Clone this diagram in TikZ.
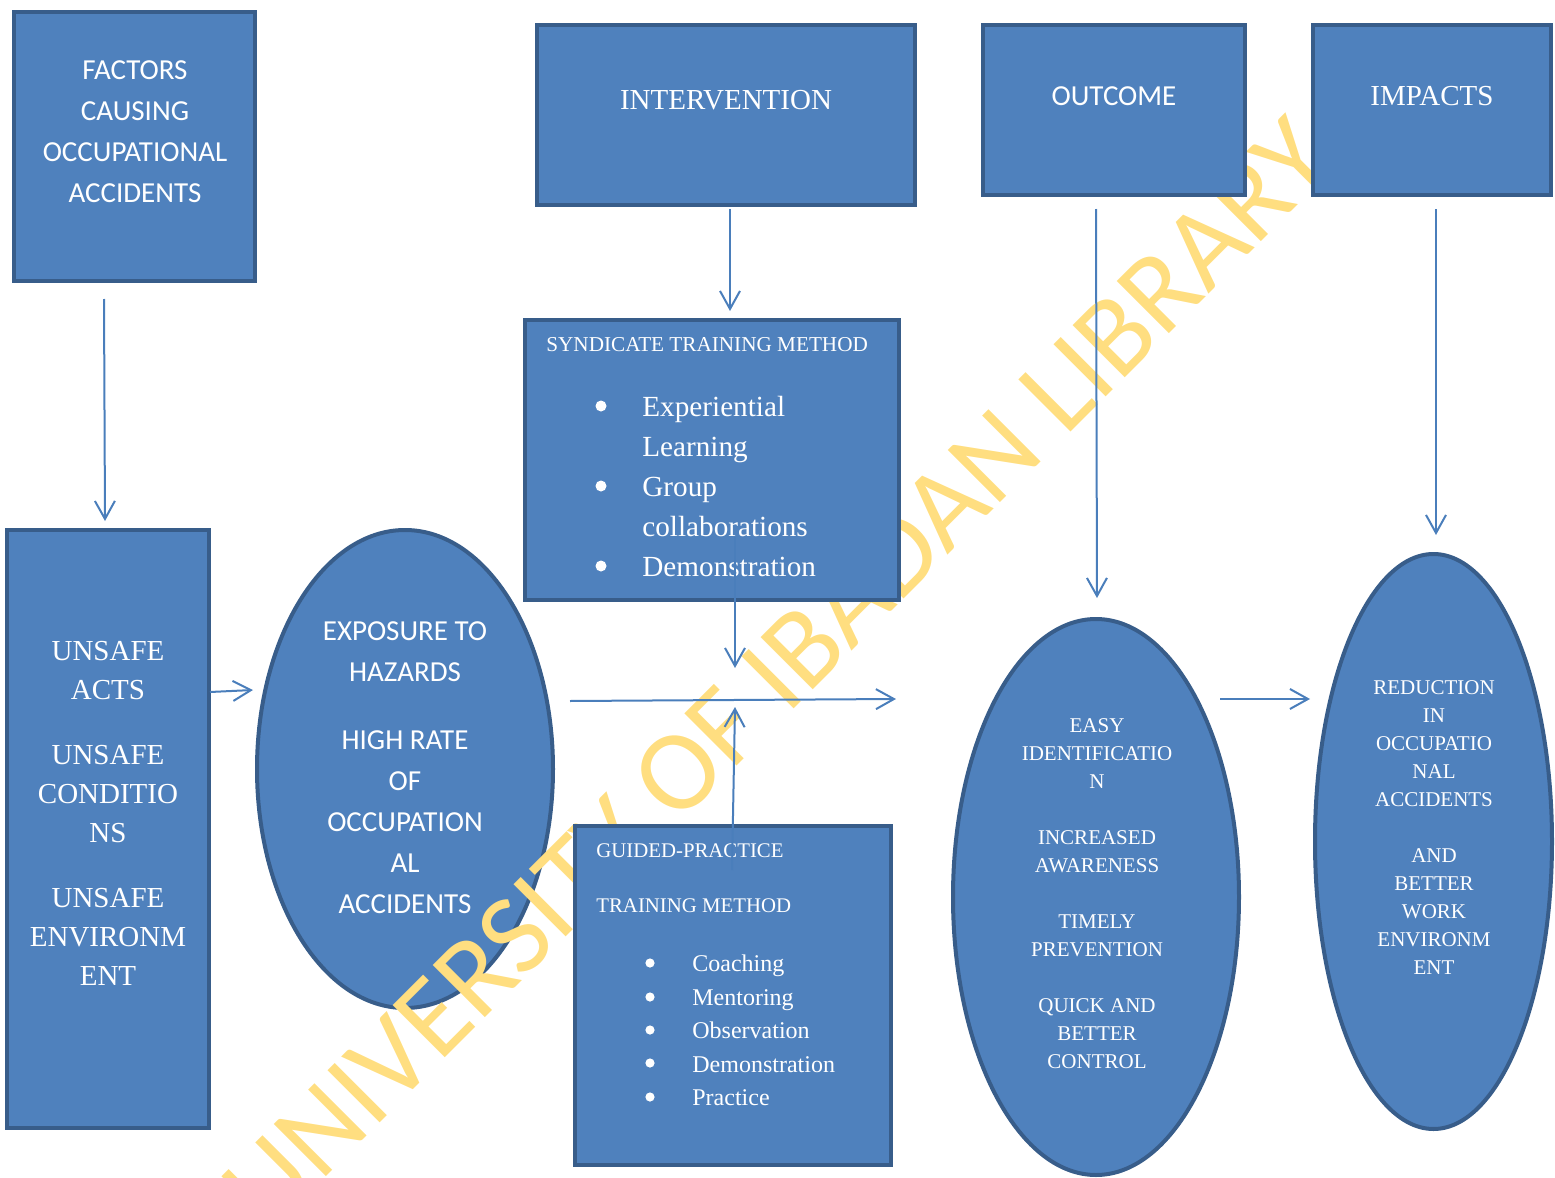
\documentclass[tikz,border=0pt]{standalone}
\usepackage{fontspec}
\setmainfont{Liberation Serif}
\newfontfamily\carl{Carlito}
\usetikzlibrary{shapes.geometric,arrows.meta,calc}
\definecolor{boxfill}{RGB}{79,129,189}
\definecolor{boxline}{RGB}{56,93,138}
\definecolor{arrowc}{RGB}{74,126,187}
\definecolor{wmark}{RGB}{255,222,128}
\begin{document}
\begin{tikzpicture}[x=0.5pt,y=-0.5pt,
  blk/.style={draw=boxline, fill=boxfill, line width=2pt, rectangle, inner sep=0pt},
  ell/.style={draw=boxline, fill=boxfill, line width=2pt, ellipse, inner sep=0pt},
  txt/.style={text=white, inner sep=0pt, align=center},
  sansA/.style={txt, font=\fontsize{14.5}{20.5}\selectfont\carl},
  serifA/.style={txt, font=\fontsize{14.5}{20}\selectfont},
  serifB/.style={txt, font=\fontsize{14.5}{19.5}\selectfont},
  serifC/.style={txt, font=\fontsize{10.5}{14}\selectfont},
  bulA/.style={txt, font=\fontsize{14.6}{20}\selectfont},
  bulB/.style={txt, font=\fontsize{12}{16.75}\selectfont},
  dotA/.style={circle, fill=white, inner sep=0pt, minimum size=5.5pt},
  dotB/.style={circle, fill=white, inner sep=0pt, minimum size=4.6pt},
  arr/.style={draw=arrowc, line width=1pt, -{Straight Barb[length=9pt,width=10pt]}},
]
\useasboundingbox (0,0) rectangle (1555,1178);
\clip (0,0) rectangle (1555,1178);

% ellipses
\node[ell, minimum width=148pt, minimum height=239pt] (exposure) at (405,769) {};
\node[ell, minimum width=143pt, minimum height=278pt] (easy) at (1096,897) {};
\node[ell, minimum width=118.5pt, minimum height=287.5pt] (reduction) at (1433.5,841.5) {};

% watermark
\node[font=\fontsize{57.5}{57.5}\selectfont\carl, text=wmark, rotate=45, anchor=base west, inner sep=0pt] (wm) at (268,1235) {UNIVERSITY OF IBADAN LIBRARY};

% boxes
\node[blk, minimum width=120.5pt, minimum height=134.5pt] (factors) at (134.5,146.5) {};
\node[blk, minimum width=189pt, minimum height=90pt] (intervention) at (726,115) {};
\node[blk, minimum width=131pt, minimum height=85pt] (outcome) at (1114,110) {};
\node[blk, minimum width=119pt, minimum height=85pt] (impacts) at (1432,110) {};
\node[blk, minimum width=187pt, minimum height=140pt] (syndicate) at (712,460) {};
\node[blk, minimum width=101pt, minimum height=299pt] (unsafe) at (108,829) {};
\node[blk, minimum width=158pt, minimum height=169.5pt] (guided) at (733,995.5) {};

% texts
\node[sansA, anchor=north] (tfactors) at (135,60) {FACTORS\\CAUSING\\OCCUPATIONAL\\ACCIDENTS};
\node[serifA, anchor=north] (tinter) at (726,89.5) {INTERVENTION};
\node[sansA, anchor=north] (toutcome) at (1114,86) {OUTCOME};
\node[serifA, anchor=north] (timpacts) at (1432,85.5) {IMPACTS};
\node[serifB, anchor=north] (tunsafe) at (108,641) {UNSAFE\\ACTS\\[13pt]UNSAFE\\CONDITIO\\NS\\[13pt]UNSAFE\\ENVIRONM\\ENT};
\node[sansA, anchor=north] (texpo) at (405,621) {EXPOSURE TO\\HAZARDS\\[13.5pt]HIGH RATE\\OF\\OCCUPATION\\AL\\ACCIDENTS};

\node[txt, anchor=north west, align=left, font=\fontsize{10.6}{12}\selectfont] (tsyn) at (546,337) {SYNDICATE TRAINING METHOD};
\node[bulA, anchor=north west, align=left] (tsynlist) at (642,395.5) {Experiential\\Learning\\Group\\collaborations\\Demonstration};
\node[dotA] (sb1) at (601,406) {};
\node[dotA] (sb2) at (601,486) {};
\node[dotA] (sb3) at (601,566) {};

\node[txt, anchor=north west, align=left, font=\fontsize{10.4}{27.5}\selectfont] (tguided) at (596,843) {GUIDED-PRACTICE\\TRAINING METHOD};
\node[bulB, anchor=north west, align=left] (tglist) at (692,954.5) {Coaching\\Mentoring\\Observation\\Demonstration\\Practice};
\node[dotB] (gb1) at (650,963) {};
\node[dotB] (gb2) at (650,997) {};
\node[dotB] (gb3) at (650,1030) {};
\node[dotB] (gb4) at (650,1063) {};
\node[dotB] (gb5) at (650,1097) {};

\node[serifC, anchor=north] (teasy) at (1097,718) {EASY\\IDENTIFICATIO\\N\\[14pt]INCREASED\\AWARENESS\\[14pt]TIMELY\\PREVENTION\\[14pt]QUICK AND\\BETTER\\CONTROL};
\node[serifC, anchor=north] (tred) at (1434,680) {REDUCTION\\IN\\OCCUPATIO\\NAL\\ACCIDENTS\\[14pt]AND\\BETTER\\WORK\\ENVIRONM\\ENT};

% connectors
\coordinate (mid) at (735,700);
\draw[arr] ([shift={(-15.25pt,-8pt)}]factors.south) -- ([shift={(-1.5pt,3.5pt)}]unsafe.north);
\draw[arr] ([shift={(2pt,-1pt)}]intervention.south) -- ([shift={(9pt,3.5pt)}]syndicate.north);
\draw[arr] ([shift={(-9pt,-6pt)}]outcome.south) -- ([shift={(0.5pt,9.5pt)}]easy.north);
\draw[arr] ([shift={(2pt,-6pt)}]impacts.south) -- ([shift={(1.25pt,8.5pt)}]reduction.north);
\draw[arr] ([shift={(-0.5pt,68.5pt)}]unsafe.east) -- ([shift={(-1pt,39.5pt)}]exposure.west);
\draw[arr] ([shift={(7.5pt,34pt)}]exposure.east) -- ([shift={(-27.5pt,99pt)}]easy.west);
\draw[arr] ([shift={(11.5pt,32.5pt)}]syndicate.south) -- ([yshift=16pt]mid);
\draw[arr] ([shift={(-0.5pt,-23pt)}]guided.north) -- ([yshift=-3.5pt]mid);
\draw[arr] ([shift={(-10.5pt,99pt)}]easy.east) -- ([shift={(-1.5pt,71.25pt)}]reduction.west);
\end{tikzpicture}
\end{document}
